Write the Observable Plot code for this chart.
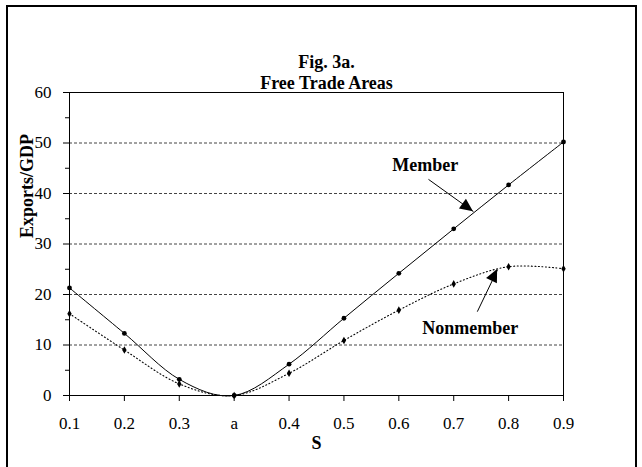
<!DOCTYPE html>
<html>
<head>
<meta charset="utf-8">
<script src="https://cdn.jsdelivr.net/npm/d3@7"></script>
<script src="https://cdn.jsdelivr.net/npm/@observablehq/plot@0.6"></script>
<style>
  html, body { margin: 0; padding: 0; background: #fff; }
  #wrap { position: relative; width: 642px; height: 467px; overflow: hidden; }
  #border { position: absolute; left: 6px; top: 5px; width: 631px; height: 500px; border: 2px solid #000; box-sizing: border-box; pointer-events: none; }
  #chart { position: absolute; left: 0; top: 0; }
  #chart svg text { font-family: "Liberation Serif", "Times New Roman", serif; }
  #chart g[aria-label*="axis"] { font-size: 17px !important; }
  #chart g[aria-label*="axis"] text { font-size: 17px !important; fill: #000; }
</style>
</head>
<body>
<div id="wrap"><div id="chart"></div><div id="border"></div></div>
<script>
// Categories (x axis) and series values
const cats = ["0.1", "0.2", "0.3", "a", "0.4", "0.5", "0.6", "0.7", "0.8", "0.9"];
const member = [21.3, 12.3, 3.2, 0, 6.2, 15.3, 24.2, 33.0, 41.7, 50.2];
const nonmember = [16.2, 9.0, 2.3, 0, 4.4, 10.9, 16.9, 22.1, 25.5, 25.1];
// Axis ticks
const yTicks = [0, 10, 20, 30, 40, 50, 60];
const yMinor = [5, 15, 25, 35, 45, 55];
const gridLines = [10, 20, 30, 40, 50];
// Texts
const titleLines = ["Fig. 3a.", "Free Trade Areas"];
const xLabel = "S";
const yLabel = "Exports/GDP";
// Annotations (in data units; x = category index)
const seriesLabels = [
  {text: "Member", x: 6.48, y: 45.5},
  {text: "Nonmember", x: 7.30, y: 13.3}
];
const arrows = [
  {x1: 6.54, y1: 42.8, x2: 7.36, y2: 36.4},
  {x1: 7.43, y1: 16.6, x2: 7.80, y2: 24.95}
];

const data = cats.map((c, i) => ({i, cat: c, member: member[i], nonmember: nonmember[i]}));

const W = 642, H = 467, mL = 69, mR = 79, mT = 92, mB = 72;
const frameW = W - mL - mR;

function arrowHeads(index, scales) {
  const g = d3.create("svg:g");
  for (const a of arrows) {
    const x1 = scales.x(a.x1), y1 = scales.y(a.y1);
    const x2 = scales.x(a.x2), y2 = scales.y(a.y2);
    const ang = Math.atan2(y2 - y1, x2 - x1);
    const L = 13, hw = 6;
    const bx = x2 - L * Math.cos(ang), by = y2 - L * Math.sin(ang);
    const px = -Math.sin(ang) * hw, py = Math.cos(ang) * hw;
    g.append("path")
      .attr("d", `M${x2},${y2}L${bx + px},${by + py}L${bx - px},${by - py}Z`)
      .attr("fill", "#000");
  }
  return g.node();
}

const chart = Plot.plot({
  width: W, height: H,
  marginLeft: mL, marginRight: mR, marginTop: mT, marginBottom: mB,
  style: {fontFamily: "'Liberation Serif', 'Times New Roman', serif", fontSize: "17px", background: "white", color: "#000", overflow: "visible"},
  x: {type: "linear", domain: [0, cats.length - 1], ticks: d3.range(cats.length), tickFormat: i => cats[i], tickSize: 6, tickPadding: 15, label: null},
  y: {domain: [0, 60], ticks: yTicks, tickSize: 6, tickPadding: 12, label: null},
  marks: [
    Plot.ruleY(gridLines, {stroke: "#444", strokeWidth: 1, strokeDasharray: "3,2"}),
    Plot.ruleY(yMinor, {stroke: "#000", insetLeft: -4, insetRight: frameW}),
    Plot.frame({stroke: "#000", strokeWidth: 1}),
    Plot.line(data, {x: "i", y: "member", curve: "cardinal", stroke: "#000", strokeWidth: 1}),
    Plot.line(data, {x: "i", y: "nonmember", curve: "cardinal", stroke: "#000", strokeWidth: 1.1, strokeDasharray: "1,2.5"}),
    Plot.dot(data, {x: "i", y: "member", r: 2.4, fill: "#000", stroke: null}),
    Plot.dot(data, {x: "i", y: "nonmember", r: 2.3, symbol: "diamond", fill: "#000", stroke: null}),
    Plot.link(arrows, {x1: "x1", y1: "y1", x2: "x2", y2: "y2", stroke: "#000", strokeWidth: 1}),
    arrowHeads,
    Plot.text(seriesLabels, {x: "x", y: "y", text: "text", fontWeight: "bold", fontSize: 18, fill: "#000"}),
    Plot.text([titleLines[0]], {frameAnchor: "top", dx: 10, dy: -37, fontWeight: "bold", fontSize: 18, fill: "#000"}),
    Plot.text([titleLines[1]], {frameAnchor: "top", dx: 10, dy: -16, fontWeight: "bold", fontSize: 18, fill: "#000"}),
    Plot.text([xLabel], {frameAnchor: "bottom", dy: 53, fontWeight: "bold", fontSize: 18, fill: "#000"}),
    Plot.text([yLabel], {frameAnchor: "left", dx: -42, dy: -6, rotate: -90, fontWeight: "bold", fontSize: 18, fill: "#000"})
  ]
});
document.getElementById("chart").appendChild(chart);
</script>
</body>
</html>
